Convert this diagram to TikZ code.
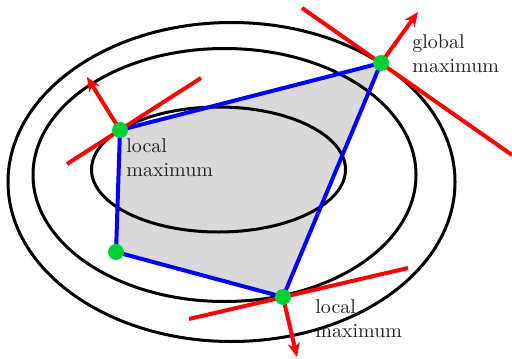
\documentclass[tikz,border=0pt]{standalone}
\usetikzlibrary{arrows.meta}
\definecolor{dotgreen}{RGB}{0,208,56}
\definecolor{txtgray}{RGB}{34,34,34}
\begin{document}
\begin{tikzpicture}[x=0.5pt,y=-0.5pt,
  contour/.style={draw=black,line width=1.5pt},
  edge/.style={draw=blue,line width=2pt,line join=round},
  tangent/.style={draw=red,line width=2pt},
  normal/.style={draw=red,line width=2pt,-{Stealth[length=7pt,width=6pt,inset=2pt]}},
  vertex/.style={circle,fill=dotgreen,inner sep=0pt,minimum size=8pt},
  lbl/.style={anchor=north west,inner sep=0pt,align=left,text=txtgray,font=\normalsize}]
\useasboundingbox (0,0) rectangle (512,358);
% vertices
\coordinate (A) at (120,130);
\coordinate (B) at (381,63);
\coordinate (C) at (283,297);
\coordinate (D) at (116,252);
% feasible region
\fill[black!15] (A) -- (B) -- (C) -- (D) -- cycle;
% contours
\draw[contour] (231.5,182) ellipse [x radius=111.75pt, y radius=79.75pt];
\draw[contour] (224.5,175) ellipse [x radius=95.75pt, y radius=63.25pt];
\draw[contour] (218.5,169.5) ellipse [x radius=63.5pt, y radius=31.25pt];
% polygon edges
\draw[edge] (A) -- (B) -- (C) -- (D) -- cycle;
% tangent lines and normals
\coordinate (A1) at (67,164);
\coordinate (A2) at (201,78);
\coordinate (An) at (87,77);
\coordinate (B1) at (302,8);
\coordinate (B2) at (512,155);
\coordinate (Bn) at (418,12);
\coordinate (C1) at (189,319);
\coordinate (C2) at (408,268);
\coordinate (Cn) at (297,357);
\draw[tangent] (A1) -- (A2);
\draw[tangent] (B1) -- (B2);
\draw[tangent] (C1) -- (C2);
\draw[normal] (A) -- (An);
\draw[normal] (B) -- (Bn);
\draw[normal] (C) -- (Cn);
% dots
\node[vertex] (vA) at (A) {};
\node[vertex] (vB) at (B) {};
\node[vertex] (vC) at (C) {};
\node[vertex] (vD) at (D) {};
% labels
\node[lbl] (lA) at (126,138) {local\\maximum};
\node[lbl] (lB) at (412,34) {global\\maximum};
\node[lbl] (lC) at (315,299) {local\\maximum};
\end{tikzpicture}
\end{document}
